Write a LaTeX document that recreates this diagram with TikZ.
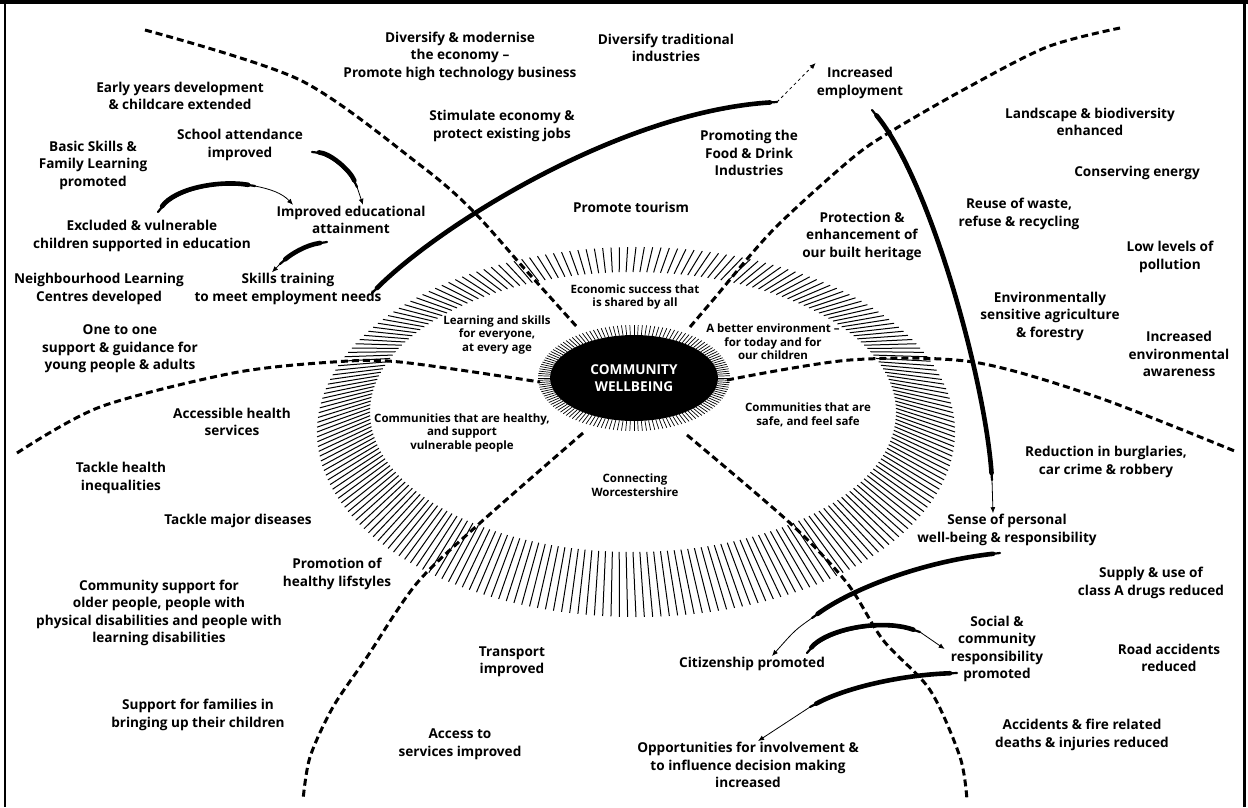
\documentclass[tikz,border=0pt]{standalone}
\usepackage{fontspec}
\setmainfont{Open Sans}
\usetikzlibrary{arrows.meta,calc,positioning,shapes.geometric}

\tikzset{
  lab/.style={align=center, inner sep=1pt, font=\bfseries\fontsize{13.6}{17.5}\selectfont},
  ringlab/.style={align=center, inner sep=1pt, font=\bfseries\fontsize{11.5}{13.5}\selectfont},
  spoke/.style={line width=3pt, dash pattern=on 7pt off 4pt},
  brush/.style={line width=2.2pt, line cap=round,
    postaction={draw, line width=4.6pt, shorten <=7pt, shorten >=7pt}},
  brushtip/.style={line width=0.8pt, -{Latex[length=6pt,width=5pt]}},
}

\begin{document}
\begin{tikzpicture}[x=1pt, y=-1pt, >=Latex]
  \useasboundingbox (0,0) rectangle (1248,807);

  % Frame
  \fill (0,0) rectangle (1248,4);
  \draw[line width=2pt] (5,4) -- (5,807);
  \draw[line width=3pt] (1244,4) -- (1244,807);

  % Hatched ring
  \foreach \a in {0,1.5,...,358.5}
    \draw[line width=1pt] ({633+263*cos(\a)},{412+140*sin(\a)}) -- ({636+319*cos(\a)},{432+185*sin(\a)});

  % Centre
  \foreach \a in {0,2.5,...,357.5}
    \draw[line width=0.7pt] ({634+84*cos(\a)},{378+43*sin(\a)}) -- ({634+96*cos(\a)},{378+53*sin(\a)});
  \node[ellipse, fill=black, text=white, minimum width=168pt, minimum height=86pt,
        inner sep=0pt, font=\bfseries\fontsize{13.6}{17.5}\selectfont, align=center]
        (core) at (634,378) {COMMUNITY\\WELLBEING};

  % Spokes
  \draw[spoke] plot[smooth] coordinates {(145,30) (300,80) (420,165) (472,210) (523,267) (577,327)};
  \draw[spoke] plot[smooth] coordinates {(690,327) (713,300) (773,230) (850,160) (890,132) (963,90) (1047,47) (1120,28)};
  \draw[spoke] plot[smooth] coordinates {(17,453) (100,407) (233,373) (333,362) (400,362) (540,382)};
  \draw[spoke] plot[smooth] coordinates {(727,380) (850,360) (973,362) (1097,397) (1237,452)};
  \draw[spoke] plot[smooth] coordinates {(583,433) (480,523) (417,583) (367,657) (333,707) (310,757) (303,800)};
  \draw[spoke] plot[smooth] coordinates {(687,435) (790,523) (847,583) (883,640) (930,690) (960,757) (967,800)};

  % Ring themes
  \node[ringlab] (econ) at (635,297) {Economic success that\\is shared by all};
  \node[ringlab] (learn) at (497,335) {Learning and skills\\for everyone,\\at every age};
  \node[ringlab] (better) at (773,342) {A better environment --\\for today and for\\our children};
  \node[ringlab] (healthy) at (462,433) {Communities that are healthy,\\and support\\vulnerable people};
  \node[ringlab] (safe) at (808,415) {Communities that are\\safe, and feel safe};
  \node[ringlab] (connect) at (635,485) {Connecting\\Worcestershire};

  % Learning
  \node[lab] (early) at (180,96) {Early years development\\\& childcare extended};
  \node[lab] (basic) at (93,165) {Basic Skills \&\\Family Learning\\promoted};
  \node[lab] (school) at (240,145) {School attendance\\improved};
  \node[lab] (attain) at (351,220) {Improved educational\\attainment};
  \node[lab] (excl) at (142,236) {Excluded \& vulnerable\\children supported in education};
  \node[lab] (neigh) at (99,289) {Neighbourhood Learning\\Centres developed};
  \node[lab] (skills) at (288,289) {Skills training\\to meet employment needs};
  \node[lab] (onetoone) at (120,349) {One to one\\support \& guidance for\\young people \& adults};

  % Economy
  \node[lab] (divmod) at (460,56) {Diversify \& modernise\\the economy --\\Promote high technology business};
  \node[lab] (divtrad) at (666,48) {Diversify traditional\\industries};
  \node[lab] (stim) at (502,126) {Stimulate economy \&\\protect existing jobs};
  \node[lab] (food) at (749,153) {Promoting the\\Food \& Drink\\Industries};
  \node[lab] (tourism) at (631,207) {Promote tourism};
  \node[lab] (incemp) at (860,83) {Increased\\employment};

  % Environment
  \node[lab] (landsc) at (1090,122) {Landscape \& biodiversity\\enhanced};
  \node[lab] (energy) at (1137,173) {Conserving energy};
  \node[lab] (reuse) at (1019,214) {Reuse of waste,\\refuse \& recycling};
  \node[lab] (heritage) at (862,236) {Protection \&\\enhancement of\\our built heritage};
  \node[lab] (pollut) at (1170,257) {Low levels of\\pollution};
  \node[lab] (agri) at (1050,316) {Environmentally\\sensitive agriculture\\\& forestry};
  \node[lab] (envaware) at (1179,354) {Increased\\environmental\\awareness};

  % Safety
  \node[lab] (burgl) at (1106,462) {Reduction in burglaries,\\car crime \& robbery};
  \node[lab] (sense) at (1007,530) {Sense of personal\\well-being \& responsibility};
  \node[lab] (drugs) at (1151,583) {Supply \& use of\\class A drugs reduced};
  \node[lab] (social) at (997,649) {Social \&\\community\\responsibility\\promoted};
  \node[lab] (road) at (1169,658) {Road accidents\\reduced};
  \node[lab] (fire) at (1082,735) {Accidents \& fire related\\deaths \& injuries reduced};
  \node[lab] (citiz) at (752,664) {Citizenship promoted};
  \node[lab] (opport) at (748,765) {Opportunities for involvement \&\\to influence decision making\\increased};

  % Connecting
  \node[lab] (transport) at (512,662) {Transport\\improved};
  \node[lab] (services) at (460,744) {Access to\\services improved};

  % Health
  \node[lab] (access) at (232,422) {Accessible health\\services};
  \node[lab] (inequal) at (121,478) {Tackle health\\inequalities};
  \node[lab] (disease) at (238,521) {Tackle major diseases};
  \node[lab] (lifestyle) at (337,574) {Promotion of\\healthy lifstyles};
  \node[lab] (commsup) at (159,613) {Community support for\\older people, people with\\physical disabilities and people with\\learning disabilities};
  \node[lab] (families) at (198,715) {Support for families in\\bringing up their children};

  % Brush arrows
  \coordinate (a1) at (255,186);
  \draw[brush] (158,212) .. controls (175,188) and (220,180) .. (a1);
  \draw[brushtip] (a1) .. controls (270,189) and (282,193) .. ([xshift=-58]attain.north);

  \coordinate (b1) at (357,187);
  \draw[brush] (312,152) .. controls (330,153) and (350,170) .. (b1);
  \draw[brushtip] (b1) -- ([xshift=12]attain.north);

  \coordinate (c1) at (280,264);
  \draw[brush] (327,242) .. controls (305,245) and (290,255) .. (c1);
  \draw[brushtip] (c1) -- ([xshift=-16]skills.north);

  \coordinate (d1) at (777,102);
  \draw[brush] (372,293) .. controls (440,225) and (620,112) .. (d1);
  \draw[brushtip, dashed] (d1) -- ([yshift=20]incemp.west);

  \coordinate (e1) at (992,480);
  \draw[brush] (872,110) .. controls (930,180) and (985,380) .. (e1);
  \draw[brushtip] (e1) -- ([xshift=-14]sense.north);

  \coordinate (f1) at (812,618);
  \draw[brush] (1000,553) .. controls (920,562) and (850,590) .. (f1);
  \draw[brushtip] (f1) .. controls (795,630) .. ([xshift=20]citiz.north);

  \coordinate (g1) at (920,632);
  \draw[brush] (807,653) .. controls (825,630) and (880,618) .. (g1);
  \draw[brushtip] (g1) -- ([xshift=-5]social.west);

  \coordinate (h1) at (810,707);
  \draw[brush] (957,673) .. controls (900,675) and (845,688) .. (h1);
  \draw[brushtip] (h1) -- ([xshift=10]opport.north);

\end{tikzpicture}
\end{document}
